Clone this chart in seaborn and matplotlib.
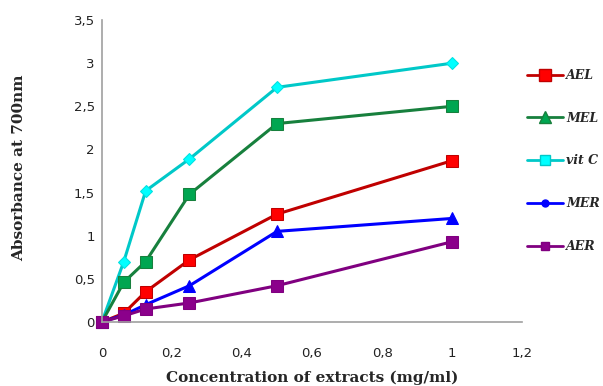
import matplotlib
matplotlib.use("Agg")
import matplotlib.pyplot as plt
from matplotlib.lines import Line2D
from matplotlib.ticker import FuncFormatter
import seaborn as sns
import pandas as pd

# concentrations (mg/ml)
conc = [0, 0.0625, 0.125, 0.25, 0.5, 1]

# absorbance at 700 nm per extract
ael = [0, 0.10, 0.35, 0.72, 1.25, 1.87]
mel = [0, 0.46, 0.70, 1.48, 2.30, 2.50]
vitc = [0, 0.70, 1.52, 1.89, 2.72, 3.00]
mer = [0, 0.08, 0.20, 0.42, 1.05, 1.20]
aer = [0, 0.07, 0.15, 0.22, 0.42, 0.93]

names = ["AEL", "MEL", "vit C", "MER", "AER"]
values = [ael, mel, vitc, mer, aer]

# (line colour, marker, face, edge, size) as drawn in the plot
plot_style = {
    "AEL": ("#C00000", "s", "#FF0000", "#C00000", 8),
    "MEL": ("#17803D", "s", "#00A651", "#17803D", 9),
    "vit C": ("#00C8C8", "D", "#00FFFF", "#00E0E0", 6),
    "MER": ("#0000FF", "^", "#0000FF", "#0000FF", 8),
    "AER": ("#800080", "s", "#8B008B", "#800080", 8),
}
# legend markers differ from the plot ones
legend_style = {
    "AEL": ("#C00000", "s", "#FF0000", 8),
    "MEL": ("#17803D", "^", "#00A651", 8),
    "vit C": ("#00C8C8", "s", "#00FFFF", 7),
    "MER": ("#0000FF", "o", "#0000FF", 5),
    "AER": ("#800080", "s", "#8B008B", 6),
}

df = pd.DataFrame({
    "conc": conc * len(names),
    "absorb": sum(values, []),
    "extract": [n for n in names for _ in conc],
})

sns.set_style("white")
fig = plt.figure(figsize=(6.03, 3.86), dpi=100)
ax = fig.add_axes([0.169, 0.166, 0.697, 0.782])

# draw back to front like the reference
for name in ["vit C", "MEL", "AEL", "MER", "AER"]:
    lc, mk, fc, ec, ms = plot_style[name]
    sub = df[df["extract"] == name]
    sns.lineplot(data=sub, x="conc", y="absorb", ax=ax, color=lc, marker=mk,
                 markerfacecolor=fc, markeredgecolor=ec, markersize=ms,
                 linewidth=2.2, legend=False, clip_on=False)

ax.set_xlim(0, 1.2)
ax.set_ylim(0, 3.5)
ax.set_xticks([0, 0.2, 0.4, 0.6, 0.8, 1, 1.2])
ax.set_yticks([0, 0.5, 1, 1.5, 2, 2.5, 3, 3.5])
fmt = FuncFormatter(lambda v, p: ("%g" % v).replace(".", ","))
ax.xaxis.set_major_formatter(fmt)
ax.yaxis.set_major_formatter(fmt)
ax.tick_params(labelsize=9.5, length=0, colors="#222222")
ax.tick_params(axis="x", pad=18)
ax.tick_params(axis="y", pad=5)
for s in ["top", "right"]:
    ax.spines[s].set_visible(False)
for s in ["left", "bottom"]:
    ax.spines[s].set_color("#A0A0A0")
    ax.spines[s].set_linewidth(1.2)

ax.set_xlabel("Concentration of extracts (mg/ml)", family="DejaVu Serif",
              fontweight="bold", fontsize=11)
ax.set_ylabel("Absorbance at 700nm", family="DejaVu Serif",
              fontweight="bold", fontsize=11)
ax.xaxis.set_label_coords(0.5, -0.16)
ax.yaxis.set_label_coords(-0.18, 0.51)

handles = []
for name in names:
    lc, mk, fc, ms = legend_style[name]
    handles.append(Line2D([], [], color=lc, marker=mk, markerfacecolor=fc,
                          markeredgecolor=lc, markersize=ms, linewidth=2))
fig.legend(handles, names, loc="upper left", bbox_to_anchor=(527 / 603, 1 - 69 / 386),
           frameon=False, handlelength=2.9, handletextpad=0.25, labelspacing=2.38,
           borderpad=0, borderaxespad=0,
           prop={"family": "DejaVu Serif", "style": "italic", "weight": "bold", "size": 9})

fig.savefig("out.png", dpi=100)
